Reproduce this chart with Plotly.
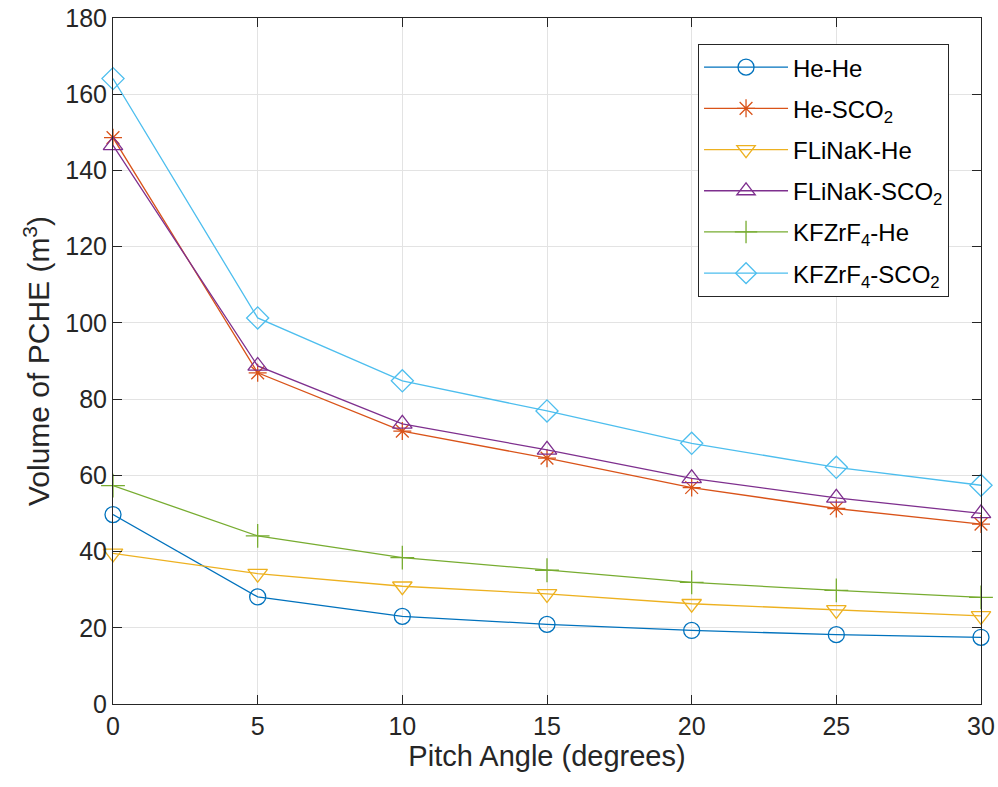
import plotly.graph_objects as go

pitch = [0, 5, 10, 15, 20, 25, 30]
he_he = [49.7, 28.1, 23.0, 20.9, 19.3, 18.2, 17.5]
he_sco2 = [148.6, 86.9, 71.6, 64.5, 56.8, 51.3, 47.2]
flinak_he = [39.5, 34.2, 30.9, 28.9, 26.3, 24.7, 23.1]
flinak_sco2 = [146.6, 88.7, 73.5, 66.7, 59.2, 54.1, 50.0]
kfzrf4_he = [57.3, 44.1, 38.4, 35.1, 31.9, 29.8, 28.0]
kfzrf4_sco2 = [164.1, 101.3, 84.8, 76.9, 68.4, 62.1, 57.4]

names = ["He-He", "He-SCO<sub>2</sub>", "FLiNaK-He", "FLiNaK-SCO<sub>2</sub>",
         "KFZrF<sub>4</sub>-He", "KFZrF<sub>4</sub>-SCO<sub>2</sub>"]
series = [he_he, he_sco2, flinak_he, flinak_sco2, kfzrf4_he, kfzrf4_sco2]
colors = ["#0072BD", "#D95319", "#EDB120", "#7E2F8E", "#77AC30", "#4DBEEE"]
symbols = ["circle-open", "asterisk-open", "triangle-down-open", "triangle-up-open",
           "cross-thin-open", "diamond-open"]
sizes = [16, 15, 17, 17, 17, 17]

FONT = "Liberation Sans, Arial, sans-serif"

fig = go.Figure()
for i, (n, s, c, m, sz) in enumerate(zip(names, series, colors, symbols, sizes)):
    fig.add_trace(go.Scatter(
        x=pitch, y=s, name=n, mode="lines+markers", legendgroup=f"g{i}",
        line=dict(color=c, width=1.3),
        marker=dict(symbol=m, size=sz, color=c, line=dict(color=c, width=1.3)),
        cliponaxis=False,
    ))

axis_common = dict(
    showline=True, linecolor="#262626", linewidth=1, mirror="ticks",
    ticks="inside", ticklen=9, tickcolor="#262626", tickwidth=1,
    showgrid=True, gridcolor="#e3e3e3", gridwidth=1, zeroline=False,
    tickfont=dict(family=FONT, size=25, color="#262626"),
)

fig.update_layout(
    width=998, height=787,
    margin=dict(l=113, r=17, t=18, b=83, autoexpand=False),
    paper_bgcolor="white", plot_bgcolor="white",
    font=dict(family=FONT, color="#262626"),
    xaxis=dict(range=[0, 30], tickvals=[0, 5, 10, 15, 20, 25, 30],
               title=dict(text="Pitch Angle (degrees)", font=dict(size=29), standoff=0),
               **axis_common),
    yaxis=dict(range=[0, 180], tickvals=list(range(0, 181, 20)),
               title=dict(text="Volume of PCHE (m<sup>3</sup>)", font=dict(size=30), standoff=6),
               **axis_common),
    legend=dict(x=0.674, y=0.962, xanchor="left", yanchor="top",
                bgcolor="white", bordercolor="#262626", borderwidth=1,
                font=dict(family=FONT, size=24, color="#000000"), itemwidth=84,
                tracegroupgap=7),
    showlegend=True,
)

fig.write_html("out.html")
